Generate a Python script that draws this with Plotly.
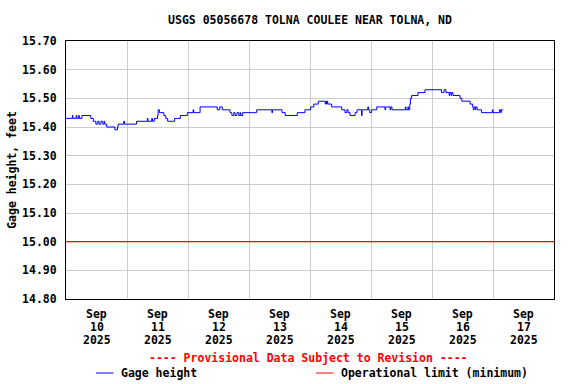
import plotly.graph_objects as go

# ---- data ----
gage_times = [
    "2025-09-10 00:00", "2025-09-10 02:30", "2025-09-10 02:45", "2025-09-10 04:00", "2025-09-10 04:15",
    "2025-09-10 05:00", "2025-09-10 05:15", "2025-09-10 06:15", "2025-09-10 09:45", "2025-09-10 10:45",
    "2025-09-10 11:45", "2025-09-10 12:30", "2025-09-10 13:00", "2025-09-10 13:45", "2025-09-10 14:30",
    "2025-09-10 15:00", "2025-09-10 15:15", "2025-09-10 16:00", "2025-09-10 19:15", "2025-09-10 20:15",
    "2025-09-10 20:30", "2025-09-10 22:45", "2025-09-10 23:00", "2025-09-11 03:45", "2025-09-11 08:00",
    "2025-09-11 08:15", "2025-09-11 09:45", "2025-09-11 10:00", "2025-09-11 10:45", "2025-09-11 12:00",
    "2025-09-11 12:15", "2025-09-11 12:45", "2025-09-11 14:30", "2025-09-11 15:15", "2025-09-11 16:00",
    "2025-09-11 18:45", "2025-09-11 21:00", "2025-09-11 23:45", "2025-09-12 02:00", "2025-09-12 02:15",
    "2025-09-12 04:45", "2025-09-12 11:30", "2025-09-12 12:30", "2025-09-12 13:30", "2025-09-12 16:30",
    "2025-09-12 17:15", "2025-09-12 18:00", "2025-09-12 18:30", "2025-09-12 19:15", "2025-09-12 20:00",
    "2025-09-12 20:30", "2025-09-12 20:45", "2025-09-12 21:30", "2025-09-13 03:00", "2025-09-13 09:00",
    "2025-09-13 09:15", "2025-09-13 13:00", "2025-09-13 14:15", "2025-09-13 19:00", "2025-09-13 22:00",
    "2025-09-14 00:15", "2025-09-14 01:30", "2025-09-14 03:15", "2025-09-14 06:00", "2025-09-14 06:15",
    "2025-09-14 06:30", "2025-09-14 06:45", "2025-09-14 07:00", "2025-09-14 08:30", "2025-09-14 12:30",
    "2025-09-14 13:45", "2025-09-14 14:30", "2025-09-14 15:00", "2025-09-14 15:45", "2025-09-14 17:45",
    "2025-09-14 18:30", "2025-09-14 20:15", "2025-09-14 20:30", "2025-09-14 22:45", "2025-09-14 23:00",
    "2025-09-14 23:30", "2025-09-15 00:15", "2025-09-15 02:15", "2025-09-15 05:30", "2025-09-15 05:45",
    "2025-09-15 07:30", "2025-09-15 07:45", "2025-09-15 08:15", "2025-09-15 13:30", "2025-09-15 13:45",
    "2025-09-15 14:30", "2025-09-15 14:45", "2025-09-15 15:15", "2025-09-15 15:30", "2025-09-15 16:00",
    "2025-09-15 18:30", "2025-09-15 21:15", "2025-09-16 03:45", "2025-09-16 04:45", "2025-09-16 05:30",
    "2025-09-16 06:45", "2025-09-16 07:00", "2025-09-16 07:30", "2025-09-16 07:45", "2025-09-16 08:15",
    "2025-09-16 11:00", "2025-09-16 11:45", "2025-09-16 15:00", "2025-09-16 16:00", "2025-09-16 16:15",
    "2025-09-16 16:30", "2025-09-16 17:00", "2025-09-16 17:15", "2025-09-16 17:45", "2025-09-16 19:30",
    "2025-09-16 23:45", "2025-09-17 00:00", "2025-09-17 02:30", "2025-09-17 03:00", "2025-09-17 03:15",
    "2025-09-17 04:00",
]
gage_height = [
    15.43, 15.44, 15.43, 15.44, 15.43,
    15.44, 15.43, 15.44, 15.43, 15.42,
    15.41, 15.42, 15.41, 15.42, 15.41,
    15.42, 15.41, 15.40, 15.39, 15.40,
    15.41, 15.42, 15.41, 15.42, 15.43,
    15.42, 15.43, 15.42, 15.43, 15.44,
    15.46, 15.45, 15.44, 15.43, 15.42,
    15.43, 15.44, 15.45, 15.46, 15.45,
    15.47, 15.46, 15.47, 15.46, 15.45,
    15.44, 15.45, 15.44, 15.45, 15.44,
    15.45, 15.44, 15.45, 15.46, 15.45,
    15.46, 15.45, 15.44, 15.45, 15.46,
    15.47, 15.48, 15.49, 15.48, 15.49,
    15.48, 15.49, 15.48, 15.47, 15.46,
    15.45, 15.46, 15.45, 15.44, 15.45,
    15.46, 15.44, 15.46, 15.47, 15.46,
    15.45, 15.46, 15.47, 15.46, 15.47,
    15.46, 15.47, 15.46, 15.47, 15.46,
    15.47, 15.46, 15.48, 15.50, 15.51,
    15.52, 15.53, 15.52, 15.53, 15.52,
    15.51, 15.52, 15.51, 15.52, 15.51,
    15.50, 15.49, 15.48, 15.47, 15.46,
    15.47, 15.46, 15.47, 15.46, 15.45,
    15.46, 15.45, 15.46, 15.45, 15.46,
    15.46,
]
limit_times = ["2025-09-10 00:00", "2025-09-18 00:00"]
limit_value = [15.00, 15.00]

day_bounds = ["2025-09-%02d 00:00" % d for d in range(11, 18)]
label_times = ["2025-09-%02d 12:00" % d for d in range(10, 18)]
label_month = ["Sep"] * 8
label_day = ["%d" % d for d in range(10, 18)]
label_year = ["2025"] * 8
y_ticks = [14.8, 14.9, 15.0, 15.1, 15.2, 15.3, 15.4, 15.5, 15.6, 15.7]
y_ticktext = ["%.2f" % v for v in y_ticks]

TITLE = "USGS 05056678 TOLNA COULEE NEAR TOLNA, ND"
FONT = "DejaVu Sans Mono"
FS = 11.5

fig = go.Figure()
fig.add_trace(go.Scatter(x=limit_times, y=limit_value, mode="lines",
                         line=dict(color="#ff0000", width=1.3), name="Operational limit (minimum)",
                         showlegend=False, hoverinfo="skip"))
fig.add_trace(go.Scatter(x=gage_times, y=gage_height, mode="lines",
                         line=dict(color="#0000ff", width=1, shape="hv"), name="Gage height",
                         showlegend=False))

fig.update_layout(
    width=576, height=384,
    margin=dict(l=66, r=22, t=41, b=85, autoexpand=False),
    paper_bgcolor="white", plot_bgcolor="white",
    font=dict(family=FONT, size=FS, color="black", weight="bold"),
    title=dict(text=TITLE, x=(66 + 554) / 2 / 576, xanchor="center", y=1 - 20 / 384, yanchor="middle",
               font=dict(family=FONT, size=FS, color="black", weight="bold")),
    showlegend=False,
)
fig.update_xaxes(
    type="date", range=["2025-09-10 00:00", "2025-09-18 00:00"],
    showticklabels=False, showgrid=False, ticks="",
    minor=dict(tickmode="array", tickvals=day_bounds, showgrid=True, gridcolor="#cccccc", gridwidth=1, ticks=""),
    showline=True, linecolor="black", linewidth=1, mirror=True, zeroline=False,
)
fig.update_yaxes(
    range=[14.8, 15.7], tickmode="array", tickvals=y_ticks, ticktext=y_ticktext,
    showgrid=True, gridcolor="#cccccc", gridwidth=1, ticks="", ticklabelstandoff=6,
    tickfont=dict(family=FONT, size=FS, color="black", weight="bold"),
    showline=True, linecolor="black", linewidth=1, mirror=True, zeroline=False, automargin=False,
    title=dict(text="Gage height, feet", standoff=3,
               font=dict(family=FONT, size=FS, color="black", weight="bold")),
)

# x tick labels: three lines each, placed on the date axis
for lines, ypix in ((label_month, 314), (label_day, 327), (label_year, 340)):
    for t, s in zip(label_times, lines):
        fig.add_annotation(text=s, xref="x", yref="paper", x=t, y=-(ypix - 299) / 258,
                           xanchor="center", yanchor="middle", showarrow=False,
                           font=dict(family=FONT, size=FS, color="black", weight="bold"))

# provisional note and legend
fig.add_annotation(text="---- Provisional Data Subject to Revision ----", xref="paper", yref="paper",
                   x=0.497, y=-(358 - 299) / 258, xanchor="center", yanchor="middle", showarrow=False,
                   font=dict(family=FONT, size=FS, color="#ff0000", weight="bold"))
leg_y = -(373 - 299) / 258
fig.add_shape(type="line", xref="paper", yref="paper", x0=(96 - 66) / 488, x1=(113.5 - 66) / 488,
              y0=leg_y, y1=leg_y, line=dict(color="#0000ff", width=1))
fig.add_annotation(text="Gage height", xref="paper", yref="paper", x=(119 - 66) / 488, y=leg_y,
                   xanchor="left", yanchor="middle", showarrow=False,
                   font=dict(family=FONT, size=FS, color="black", weight="bold"))
fig.add_shape(type="line", xref="paper", yref="paper", x0=(316 - 66) / 488, x1=(333.5 - 66) / 488,
              y0=leg_y, y1=leg_y, line=dict(color="#ff0000", width=1))
fig.add_annotation(text="Operational limit (minimum)", xref="paper", yref="paper", x=(338.5 - 66) / 488, y=leg_y,
                   xanchor="left", yanchor="middle", showarrow=False,
                   font=dict(family=FONT, size=FS, color="black", weight="bold"))

fig.write_html("out.html")
